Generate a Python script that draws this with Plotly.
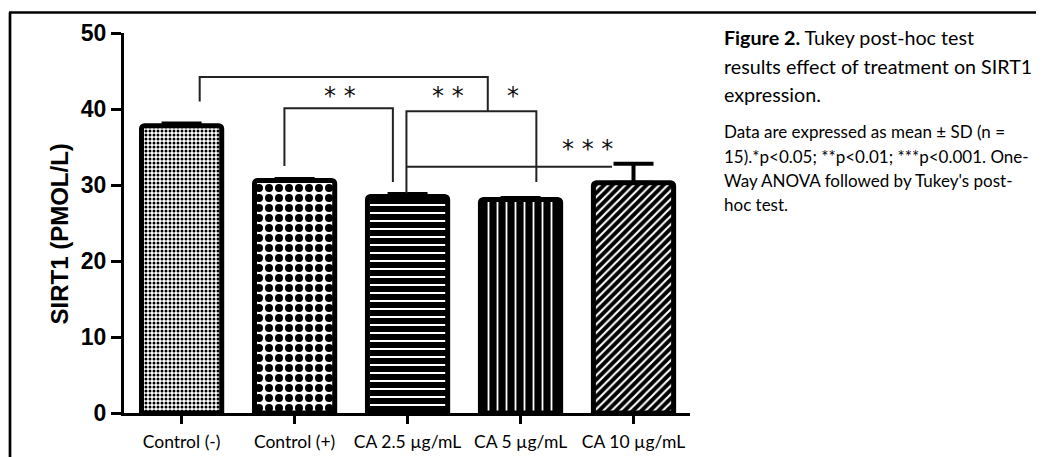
import plotly.graph_objects as go

# ---- data ----
categories = ["Control (-)", "Control (+)", "CA 2.5 µg/mL", "CA 5 µg/mL", "CA 10 µg/mL"]
means = [37.8, 30.6, 28.5, 28.1, 30.3]
sds = [0.3, 0.2, 0.3, 0.2, 2.5]
y_ticks = [0, 10, 20, 30, 40, 50]

# significance brackets: (x_left, x_right, y_top, y_left_end, y_right_end)
brackets = [
    (0.16, 2.71, 44.2, 41.0, 39.7),
    (1.99, 3.14, 39.7, 28.9, 30.4),
    (0.91, 1.87, 40.1, 32.5, 30.4),
]
hline_bracket = (1.99, 3.81, 32.4)
star_labels = ["**", "**", "*", "***"]
star_x = [1.40, 2.36, 2.93, 3.59]
star_y = [41.7, 41.7, 41.7, 34.7]

# ---- figure ----
# the page adds an 8px body margin, so the figure is 8px smaller than the window
W, H = 1036, 449
L, T = 116, 25
pw, ph = 566, 380
R, B = W - L - pw, H - T - ph

def px(x_ref):
    # reference-window pixel -> paper x
    return (x_ref - 124) / pw

def py(y_ref):
    return (413 - y_ref) / ph

fig = go.Figure()
fig.add_trace(go.Bar(
    x=categories, y=means, width=0.71,
    error_y=dict(type="data", symmetric=False, array=sds, arrayminus=[0] * len(sds),
                 visible=True, color="black", thickness=4, width=20),
    marker=dict(
        color="white",
        line=dict(color="black", width=5),
        cornerradius=3,
        pattern=dict(
            shape=[".", ".", "-", "|", "/"],
            fgcolor=["black", "black", "white", "white", "white"],
            bgcolor=["white", "white", "black", "black", "black"],
            size=[4, 10, 8, 9, 6],
            solidity=[0.45, 0.5, 0.25, 0.2, 0.35],
            fillmode="replace",
        ),
    ),
    hoverinfo="skip",
))

shapes = []
lc = dict(color="#222", width=2)
for (x0, x1, yt, yl, yr) in brackets:
    shapes.append(dict(type="path", xref="x", yref="y",
                       path=f"M {x0},{yl} L {x0},{yt} L {x1},{yt} L {x1},{yr}",
                       line=lc))
hx0, hx1, hy = hline_bracket
shapes.append(dict(type="line", xref="x", yref="y", x0=hx0, x1=hx1, y0=hy, y1=hy, line=lc))

# frame lines
shapes.append(dict(type="line", xref="paper", yref="paper", x0=px(9), x1=px(1050), y0=py(12.5), y1=py(12.5),
                   line=dict(color="black", width=2.7)))
shapes.append(dict(type="line", xref="paper", yref="paper", x0=px(10), x1=px(10), y0=py(12.5), y1=py(470),
                   line=dict(color="black", width=2.7)))

annotations = []
for s, x, y in zip(star_labels, star_x, star_y):
    annotations.append(dict(x=x, y=y, xref="x", yref="y", text=" ".join(s), showarrow=False,
                            font=dict(family="DejaVu Sans", size=24, color="#111")))

annotations.append(dict(x=px(43), y=py(234), xref="paper", yref="paper", text="SIRT1 (PMOL/L)",
                        textangle=-90, showarrow=False,
                        font=dict(family="Liberation Sans", size=24, color="black", weight="bold")))

cap_font = "Lato"
head_lines = ["<b>Figure 2.</b> Tukey post-hoc test", "results effect of treatment on SIRT1", "expression."]
head_y = [37, 66, 94]
for t, y in zip(head_lines, head_y):
    annotations.append(dict(x=px(722), y=py(y), xref="paper", yref="paper", text=t, showarrow=False,
                            xanchor="left", yanchor="middle",
                            font=dict(family=cap_font, size=19.7, color="black")))
para_lines = ["Data are expressed as mean ± SD (n =", "15).*p<0.05; **p<0.01; ***p<0.001. One-",
              "Way ANOVA followed by Tukey's post-", "hoc test."]
para_y = [131.5, 156.5, 180.5, 204.5]
for t, y in zip(para_lines, para_y):
    annotations.append(dict(x=px(722), y=py(y), xref="paper", yref="paper", text=t, showarrow=False,
                            xanchor="left", yanchor="middle",
                            font=dict(family=cap_font, size=17, color="black")))

fig.update_layout(
    width=W, height=H,
    margin=dict(l=L, r=R, t=T, b=B, pad=0),
    paper_bgcolor="white", plot_bgcolor="white",
    showlegend=False,
    shapes=shapes, annotations=annotations,
    xaxis=dict(range=[-0.51, 4.5], showline=True, linecolor="black", linewidth=3,
               ticks="outside", ticklen=8, tickwidth=3, tickcolor="black",
               ticklabelstandoff=3, automargin=False,
               showgrid=False, zeroline=False,
               tickfont=dict(family="Lato", size=17.5, color="black")),
    yaxis=dict(range=[0, 50], tickvals=y_ticks, showline=True, linecolor="black", linewidth=3,
               ticks="outside", ticklen=10, tickwidth=3, tickcolor="black",
               automargin=False,
               showgrid=False, zeroline=False,
               tickfont=dict(family="Liberation Sans", size=23, color="black", weight="bold")),
)

fig.write_html("out.html")
